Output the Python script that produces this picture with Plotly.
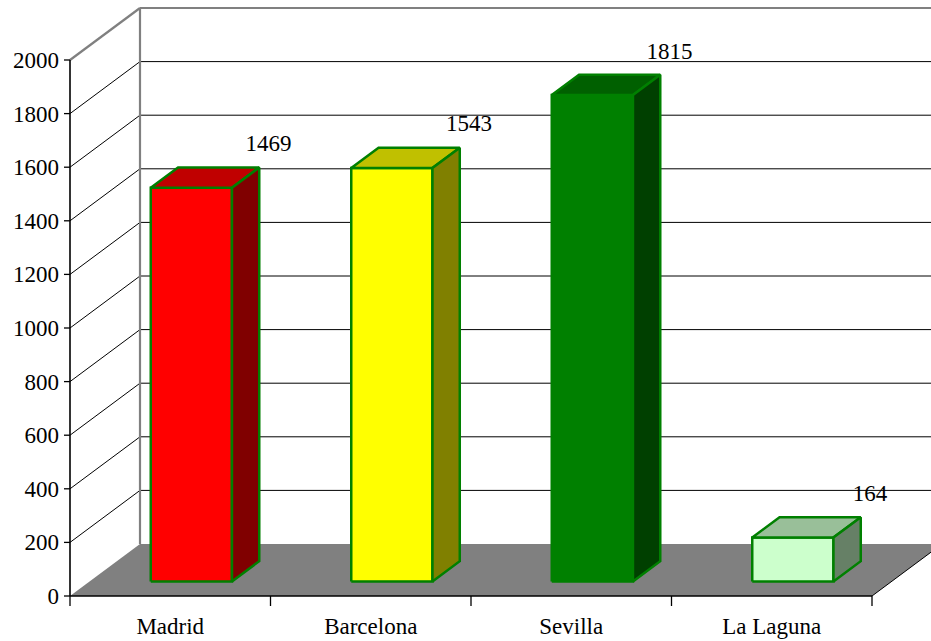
import plotly.graph_objects as go

# datos
ciudades = ["Madrid", "Barcelona", "Sevilla", "La Laguna"]
valores = [1469, 1543, 1815, 164]
marcas_y = [0, 200, 400, 600, 800, 1000, 1200, 1400, 1600, 1800, 2000]

color_frente = ["#FF0000", "#FFFF00", "#008000", "#CCFFCC"]
color_techo = ["#C00000", "#C0C000", "#006000", "#99BF99"]
color_lado = ["#800000", "#808000", "#004000", "#668066"]

# geometria de la perspectiva
PX_X = 200.5      # pixeles por categoria
PX_Y = 0.268      # pixeles por unidad del eje y
DX = 70 / PX_X    # profundidad de la pared en x
DY = 52 / PX_Y    # profundidad de la pared en y
D0 = 0.28         # posicion de la cara frontal de la barra
BD = 0.39         # fondo de la barra
N = len(ciudades)
Y_MAX = marcas_y[-1]
FUENTE = dict(family="Liberation Serif, Times New Roman, serif", size=23, color="black")

fig = go.Figure()


def poligono(xs, ys, relleno, borde=None, ancho=0):
    fig.add_trace(go.Scatter(
        x=xs + [xs[0]], y=ys + [ys[0]],
        fill="toself", fillcolor=relleno,
        mode="lines" if borde else "none",
        line=dict(color=borde or relleno, width=ancho),
        hoverinfo="skip", showlegend=False
    ))


def lineas(segmentos, color, ancho):
    xs, ys = [], []
    for (xa, ya), (xb, yb) in segmentos:
        xs += [xa, xb, None]
        ys += [ya, yb, None]
    fig.add_trace(go.Scatter(
        x=xs, y=ys, mode="lines",
        line=dict(color=color, width=ancho),
        hoverinfo="skip", showlegend=False
    ))


# suelo gris
poligono([0, N, N + DX, DX], [0, 0, DY, DY], "#808080")

# rejilla de la pared del fondo y de la pared lateral
internas = [v for v in marcas_y if 0 < v < Y_MAX]
lineas([((DX, v + DY), (N + DX, v + DY)) for v in internas], "#000000", 1)
lineas([((0, v), (DX, v + DY)) for v in internas], "#000000", 1)

# marco gris de las paredes
lineas([((0, Y_MAX), (DX, Y_MAX + DY)),
        ((DX, DY), (DX, Y_MAX + DY)),
        ((DX, Y_MAX + DY), (N + DX, Y_MAX + DY))], "#808080", 2.2)

# borde derecho del suelo
lineas([((N, 0), (N + DX, DY))], "#000000", 1)

# ejes
lineas([((0, 0), (0, Y_MAX)), ((0, 0), (N, 0))], "#000000", 1.6)
lineas([((-6 / PX_X, v), (0, v)) for v in marcas_y], "#000000", 1.3)
lineas([((i, 0), (i, -10 / PX_Y)) for i in range(N + 1)], "#000000", 1.3)

# barras 3D
for i, v in enumerate(valores):
    x0 = i + 0.305 + D0 * DX
    x1 = i + 0.71 + D0 * DX
    yb = D0 * DY
    yt = v + D0 * DY
    ddx, ddy = BD * DX, BD * DY
    poligono([x0, x1, x1, x0], [yb, yb, yt, yt], color_frente[i], "#008000", 2.5)
    poligono([x0, x1, x1 + ddx, x0 + ddx], [yt, yt, yt + ddy, yt + ddy],
             color_techo[i], "#008000", 2.5)
    poligono([x1, x1 + ddx, x1 + ddx, x1], [yb, yb + ddy, yt + ddy, yt],
             color_lado[i], "#008000", 2.5)

# etiquetas de valor
fig.add_trace(go.Scatter(
    x=[i + 0.99 for i in range(N)],
    y=[v + 212 for v in valores],
    mode="text", text=[str(v) for v in valores],
    textfont=FUENTE, cliponaxis=False,
    hoverinfo="skip", showlegend=False
))

fig.update_layout(
    width=931, height=641,
    margin=dict(l=60, r=0, t=0, b=35),
    paper_bgcolor="white", plot_bgcolor="white",
    font=FUENTE,
    showlegend=False,
    xaxis=dict(
        range=[-10 / PX_X, 861 / PX_X],
        tickvals=[i + 0.5 for i in range(N)], ticktext=ciudades,
        ticks="", showgrid=False, zeroline=False, showline=False,
        tickfont=FUENTE, fixedrange=True, automargin=False,
        ticklabelstandoff=4
    ),
    yaxis=dict(
        range=[-10 / PX_Y, 596 / PX_Y],
        tickvals=marcas_y,
        ticks="", showgrid=False, zeroline=False, showline=False,
        tickfont=FUENTE, fixedrange=True, automargin=False
    ),
)

fig.write_html("out.html", config={"displayModeBar": False},
               post_script="document.body.style.margin='0';")
